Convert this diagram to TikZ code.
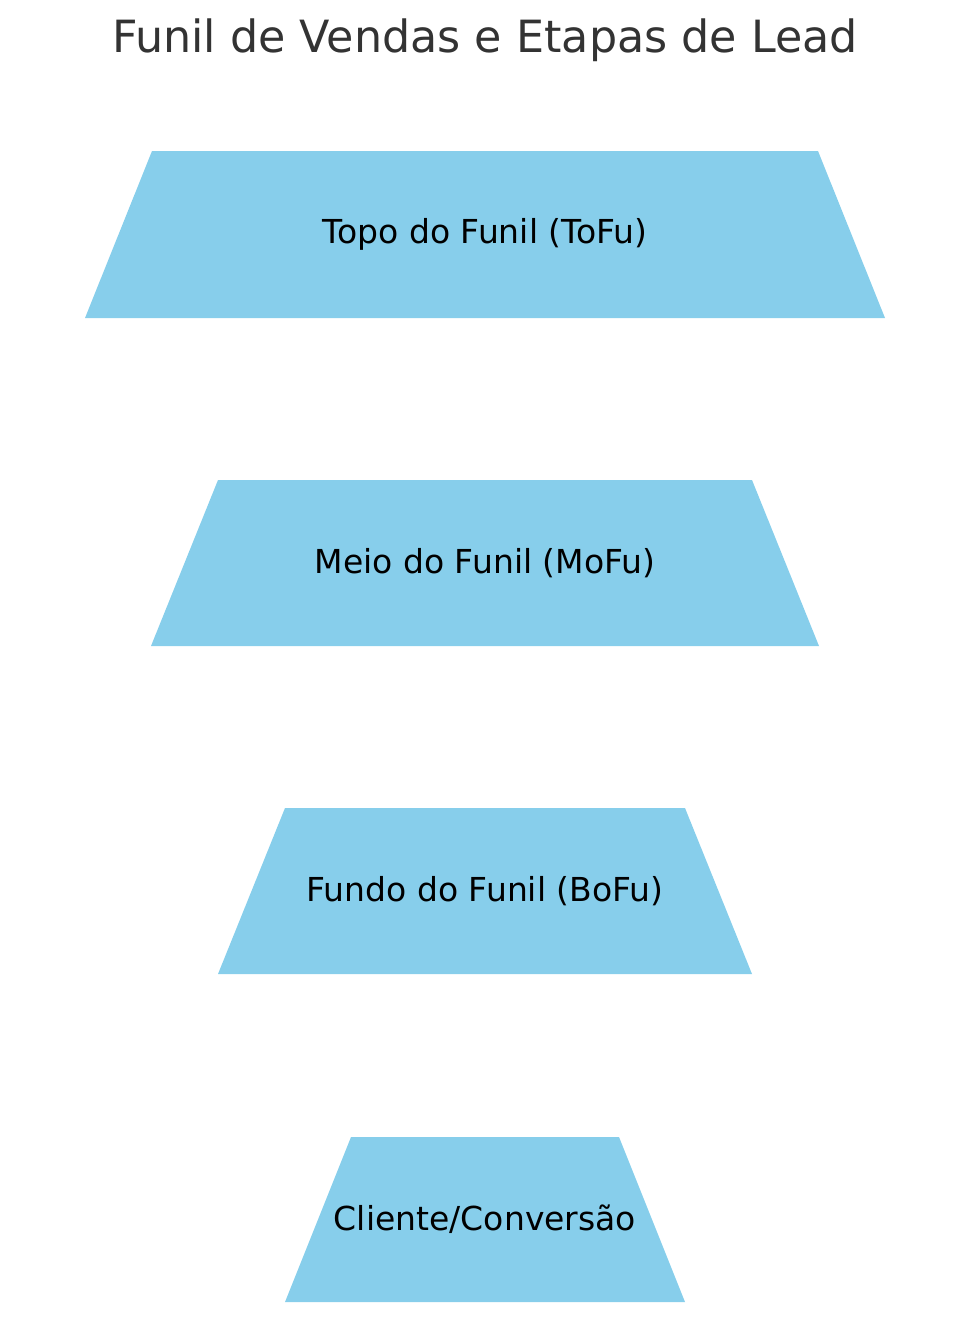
\documentclass[tikz,border=0pt]{standalone}
\usepackage{fontspec}
\setmainfont{DejaVu Sans}
\definecolor{skyb}{HTML}{87CEEB}
\definecolor{titlec}{HTML}{333333}
\begin{document}
\begin{tikzpicture}[x=1pt,y=-1pt,
  stage/.style={fill=skyb,draw=none},
  lbl/.style={font=\fontsize{33}{38}\selectfont,text=black},
  ttl/.style={font=\fontsize{44.4}{50}\selectfont,text=titlec}]
\useasboundingbox (0,0) rectangle (969,1322);
\node[ttl] (title) at (485,40) {Funil de Vendas e Etapas de Lead};
\fill[stage] (152,151) -- (818,151) -- (885,318) -- (85,318) -- cycle;
\fill[stage] (218,480) -- (752,480) -- (819,646) -- (151,646) -- cycle;
\fill[stage] (285,808) -- (685,808) -- (752,974) -- (218,974) -- cycle;
\fill[stage] (351,1137) -- (619,1137) -- (685,1302) -- (285,1302) -- cycle;
\node[lbl] (s1) at (485,234) {Topo do Funil (ToFu)};
\node[lbl] (s2) at (485,563) {Meio do Funil (MoFu)};
\node[lbl] (s3) at (485,891) {Fundo do Funil (BoFu)};
\node[lbl] (s4) at (485,1219) {Cliente/Conversão};
\end{tikzpicture}
\end{document}
